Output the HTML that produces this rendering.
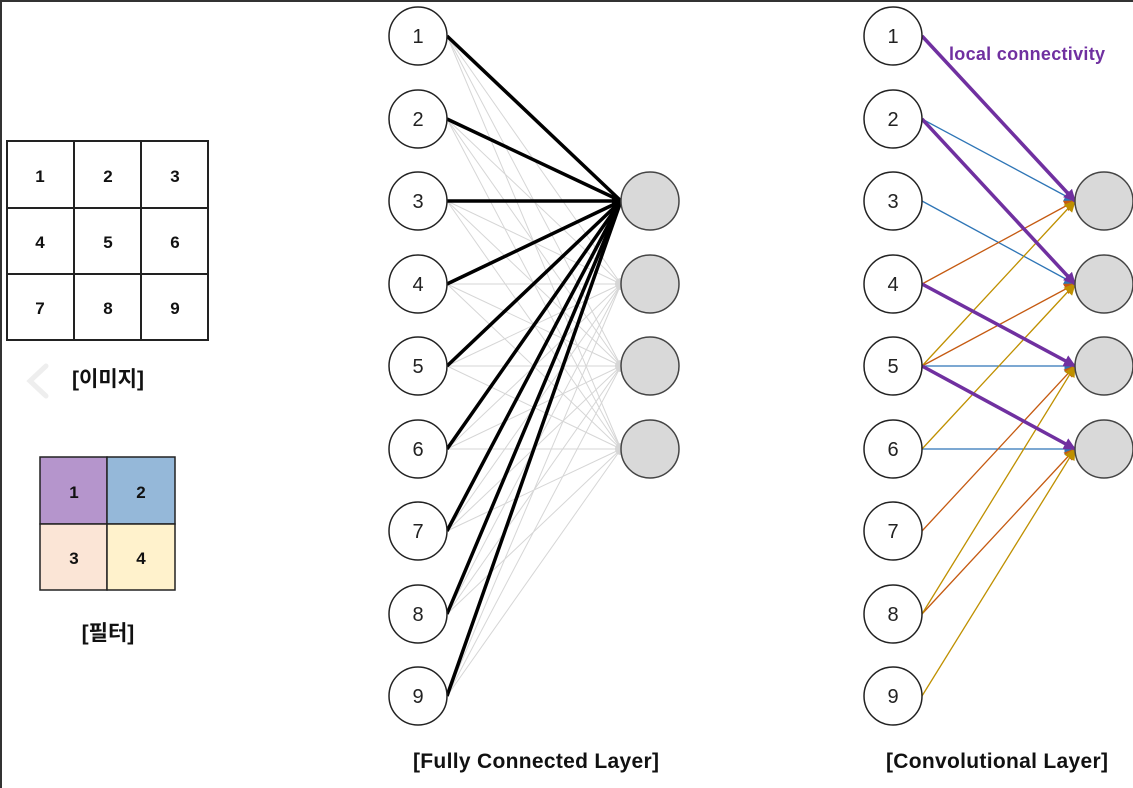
<!DOCTYPE html>
<html><head><meta charset="utf-8"><style>
html,body{margin:0;padding:0;background:#fff;}
svg{display:block;}
text{font-family:"Liberation Sans","Noto Sans CJK KR",sans-serif;}
</style></head><body>
<svg width="1133" height="788" viewBox="0 0 1133 788" xmlns="http://www.w3.org/2000/svg">
<defs>
<marker id="ap" viewBox="0 0 10 10" refX="9" refY="5" markerWidth="3.5" markerHeight="3.5" orient="auto"><path d="M0,0L10,5L0,10z" fill="#7030a0"/></marker>
<marker id="ab" viewBox="0 0 10 10" refX="9" refY="5" markerWidth="9" markerHeight="9" orient="auto"><path d="M0,0L10,5L0,10z" fill="#2e75b6"/></marker>
<marker id="ao" viewBox="0 0 10 10" refX="9" refY="5" markerWidth="9" markerHeight="9" orient="auto"><path d="M0,0L10,5L0,10z" fill="#c55a11"/></marker>
<marker id="ay" viewBox="0 0 10 10" refX="9" refY="5" markerWidth="9" markerHeight="9" orient="auto"><path d="M0,0L10,5L0,10z" fill="#bf9000"/></marker>
</defs>
<rect x="0" y="0" width="1133" height="788" fill="#fff"/>
<line x1="1" y1="0" x2="1" y2="788" stroke="#333" stroke-width="2"/>
<line x1="0" y1="1" x2="1133" y2="1" stroke="#333" stroke-width="2"/>

<g stroke="#222" stroke-width="2" fill="#fff">
<rect x="7" y="141" width="201" height="199"/>
<line x1="74" y1="141" x2="74" y2="340"/><line x1="141" y1="141" x2="141" y2="340"/>
<line x1="7" y1="208" x2="208" y2="208"/><line x1="7" y1="274" x2="208" y2="274"/>
</g>
<g font-size="17" font-weight="bold" text-anchor="middle" fill="#111">
<text x="40" y="182">1</text><text x="108" y="182">2</text><text x="175" y="182">3</text>
<text x="40" y="248">4</text><text x="108" y="248">5</text><text x="175" y="248">6</text>
<text x="40" y="314">7</text><text x="108" y="314">8</text><text x="175" y="314">9</text>
</g>
<path d="M46,366 L30,381 L46,396" fill="none" stroke="#eee" stroke-width="5" stroke-linecap="round"/>
<text x="108" y="386" font-size="21" font-weight="bold" text-anchor="middle" fill="#111">[이미지]</text>

<g stroke="#222" stroke-width="1.5">
<rect x="40" y="457" width="67" height="67" fill="#b595cc"/>
<rect x="107" y="457" width="68" height="67" fill="#95b8d9"/>
<rect x="40" y="524" width="67" height="66" fill="#fbe5d6"/>
<rect x="107" y="524" width="68" height="66" fill="#fff2cc"/>
</g>
<g font-size="17" font-weight="bold" text-anchor="middle" fill="#111">
<text x="74" y="498">1</text><text x="141" y="498">2</text><text x="74" y="564">3</text><text x="141" y="564">4</text>
</g>
<text x="108" y="640" font-size="21" font-weight="bold" text-anchor="middle" fill="#111">[필터]</text>

<g stroke="#d6d6d6" stroke-width="1">
<line x1="447" y1="36" x2="621" y2="284"/><line x1="447" y1="36" x2="621" y2="366"/><line x1="447" y1="36" x2="621" y2="449"/>
<line x1="447" y1="119" x2="621" y2="284"/><line x1="447" y1="119" x2="621" y2="366"/><line x1="447" y1="119" x2="621" y2="449"/>
<line x1="447" y1="201" x2="621" y2="284"/><line x1="447" y1="201" x2="621" y2="366"/><line x1="447" y1="201" x2="621" y2="449"/>
<line x1="447" y1="284" x2="621" y2="284"/><line x1="447" y1="284" x2="621" y2="366"/><line x1="447" y1="284" x2="621" y2="449"/>
<line x1="447" y1="366" x2="621" y2="284"/><line x1="447" y1="366" x2="621" y2="366"/><line x1="447" y1="366" x2="621" y2="449"/>
<line x1="447" y1="449" x2="621" y2="284"/><line x1="447" y1="449" x2="621" y2="366"/><line x1="447" y1="449" x2="621" y2="449"/>
<line x1="447" y1="531" x2="621" y2="284"/><line x1="447" y1="531" x2="621" y2="366"/><line x1="447" y1="531" x2="621" y2="449"/>
<line x1="447" y1="614" x2="621" y2="284"/><line x1="447" y1="614" x2="621" y2="366"/><line x1="447" y1="614" x2="621" y2="449"/>
<line x1="447" y1="696" x2="621" y2="284"/><line x1="447" y1="696" x2="621" y2="366"/><line x1="447" y1="696" x2="621" y2="449"/>
</g>
<g fill="#d6d6d6"><circle cx="621" cy="284" r="6"/><circle cx="621" cy="366" r="6"/><circle cx="621" cy="449" r="6"/></g>
<g stroke="#000" stroke-width="3.5">
<line x1="447" y1="36" x2="621" y2="201"/><line x1="447" y1="119" x2="621" y2="201"/><line x1="447" y1="201" x2="621" y2="201"/>
<line x1="447" y1="284" x2="621" y2="201"/><line x1="447" y1="366" x2="621" y2="201"/><line x1="447" y1="449" x2="621" y2="201"/>
<line x1="447" y1="531" x2="621" y2="201"/><line x1="447" y1="614" x2="621" y2="201"/><line x1="447" y1="696" x2="621" y2="201"/>
</g>
<polygon points="624,201 612,192 612,210" fill="#000"/>

<g stroke="#222" stroke-width="1.5" fill="#fff">
<circle cx="418" cy="36" r="29"/><circle cx="418" cy="119" r="29"/><circle cx="418" cy="201" r="29"/>
<circle cx="418" cy="284" r="29"/><circle cx="418" cy="366" r="29"/><circle cx="418" cy="449" r="29"/>
<circle cx="418" cy="531" r="29"/><circle cx="418" cy="614" r="29"/><circle cx="418" cy="696" r="29"/>
</g>
<g stroke="#444" stroke-width="1.5" fill="#d9d9d9">
<circle cx="650" cy="201" r="29"/><circle cx="650" cy="284" r="29"/><circle cx="650" cy="366" r="29"/><circle cx="650" cy="449" r="29"/>
</g>
<g font-size="20" text-anchor="middle" fill="#222">
<text x="418" y="43">1</text><text x="418" y="126">2</text><text x="418" y="208">3</text>
<text x="418" y="291">4</text><text x="418" y="373">5</text><text x="418" y="456">6</text>
<text x="418" y="538">7</text><text x="418" y="621">8</text><text x="418" y="703">9</text>
</g>
<text x="536" y="768" font-size="21" font-weight="bold" text-anchor="middle" fill="#111" textLength="246">[Fully Connected Layer]</text>

<g stroke-width="1.3" fill="none">
<line x1="922" y1="119" x2="1075" y2="201" stroke="#2e75b6" marker-end="url(#ab)"/>
<line x1="922" y1="201" x2="1075" y2="284" stroke="#2e75b6" marker-end="url(#ab)"/>
<line x1="922" y1="366" x2="1075" y2="366" stroke="#2e75b6" marker-end="url(#ab)"/>
<line x1="922" y1="449" x2="1075" y2="449" stroke="#2e75b6" marker-end="url(#ab)"/>
<line x1="922" y1="284" x2="1075" y2="201" stroke="#c55a11" marker-end="url(#ao)"/>
<line x1="922" y1="366" x2="1075" y2="284" stroke="#c55a11" marker-end="url(#ao)"/>
<line x1="922" y1="531" x2="1075" y2="366" stroke="#c55a11" marker-end="url(#ao)"/>
<line x1="922" y1="614" x2="1075" y2="449" stroke="#c55a11" marker-end="url(#ao)"/>
<line x1="922" y1="366" x2="1075" y2="201" stroke="#bf9000" marker-end="url(#ay)"/>
<line x1="922" y1="449" x2="1075" y2="284" stroke="#bf9000" marker-end="url(#ay)"/>
<line x1="922" y1="614" x2="1075" y2="366" stroke="#bf9000" marker-end="url(#ay)"/>
<line x1="922" y1="696" x2="1075" y2="449" stroke="#bf9000" marker-end="url(#ay)"/>
</g>
<g stroke="#7030a0" stroke-width="3.5" fill="none">
<line x1="922" y1="36" x2="1075" y2="201" marker-end="url(#ap)"/>
<line x1="922" y1="119" x2="1075" y2="284" marker-end="url(#ap)"/>
<line x1="922" y1="284" x2="1075" y2="366" marker-end="url(#ap)"/>
<line x1="922" y1="366" x2="1075" y2="449" marker-end="url(#ap)"/>
</g>
<text x="949" y="60" font-size="18" font-weight="bold" fill="#7030a0" textLength="156">local connectivity</text>

<g stroke="#222" stroke-width="1.5" fill="#fff">
<circle cx="893" cy="36" r="29"/><circle cx="893" cy="119" r="29"/><circle cx="893" cy="201" r="29"/>
<circle cx="893" cy="284" r="29"/><circle cx="893" cy="366" r="29"/><circle cx="893" cy="449" r="29"/>
<circle cx="893" cy="531" r="29"/><circle cx="893" cy="614" r="29"/><circle cx="893" cy="696" r="29"/>
</g>
<g stroke="#444" stroke-width="1.5" fill="#d9d9d9">
<circle cx="1104" cy="201" r="29"/><circle cx="1104" cy="284" r="29"/><circle cx="1104" cy="366" r="29"/><circle cx="1104" cy="449" r="29"/>
</g>
<g font-size="20" text-anchor="middle" fill="#222">
<text x="893" y="43">1</text><text x="893" y="126">2</text><text x="893" y="208">3</text>
<text x="893" y="291">4</text><text x="893" y="373">5</text><text x="893" y="456">6</text>
<text x="893" y="538">7</text><text x="893" y="621">8</text><text x="893" y="703">9</text>
</g>
<text x="997" y="768" font-size="21" font-weight="bold" text-anchor="middle" fill="#111" textLength="222">[Convolutional Layer]</text>
</svg>
</body></html>
